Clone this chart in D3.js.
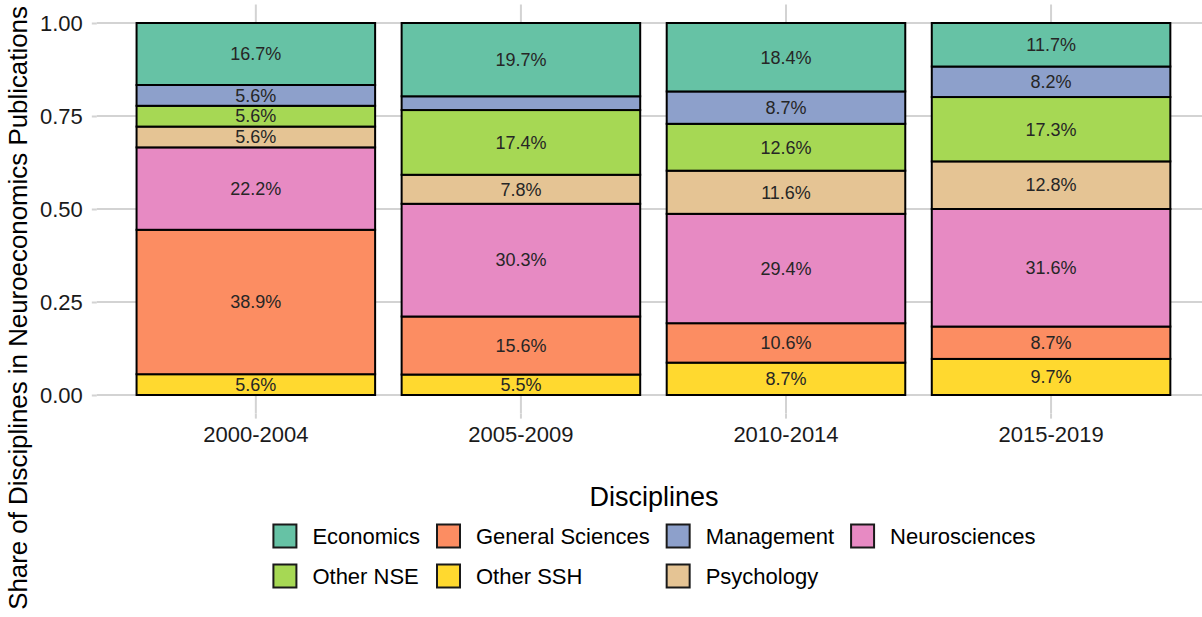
<!DOCTYPE html>
<html>
<head>
<meta charset="utf-8">
<script src="https://cdn.jsdelivr.net/npm/d3@7"></script>
<style>
  body { margin: 0; background: #fff; }
  svg { display: block; font-family: "Liberation Sans", Arial, sans-serif; }
</style>
</head>
<body>
<div id="chart"></div>
<script>
const periods = ["2000-2004", "2005-2009", "2010-2014", "2015-2019"];
const disciplines = ["Economics", "General Sciences", "Management", "Neurosciences", "Other NSE", "Other SSH", "Psychology"];
// bottom to top
const stackOrder = ["Other SSH", "General Sciences", "Neurosciences", "Psychology", "Other NSE", "Management", "Economics"];
const colors = ["#66C2A5", "#FC8D62", "#8DA0CB", "#E78AC3", "#A6D854", "#FFD92F", "#E5C494"];

// shares in percent, one value per period
const economics = [16.7, 19.7, 18.4, 11.7];
const generalSciences = [38.9, 15.6, 10.6, 8.7];
const management = [5.6, 3.7, 8.7, 8.2];
const neurosciences = [22.2, 30.3, 29.4, 31.6];
const otherNSE = [5.6, 17.4, 12.6, 17.3];
const otherSSH = [5.6, 5.5, 8.7, 9.7];
const psychology = [5.6, 7.8, 11.6, 12.8];

const yTicks = [0, 0.25, 0.5, 0.75, 1];

const seriesValues = {
  "Economics": economics,
  "General Sciences": generalSciences,
  "Management": management,
  "Neurosciences": neurosciences,
  "Other NSE": otherNSE,
  "Other SSH": otherSSH,
  "Psychology": psychology
};

const rows = periods.map((p, i) => {
  const r = { period: p };
  disciplines.forEach((d) => { r[d] = seriesValues[d][i]; });
  return r;
});

const width = 1202;
const height = 617;
const panel = { left: 96.8, right: 1210.1, top: 4.4, bottom: 413.6 };

const svg = d3.select("#chart").append("svg")
  .attr("width", width)
  .attr("height", height);

const color = d3.scaleOrdinal().domain(disciplines).range(colors);

const x = d3.scaleBand()
  .domain(periods)
  .range([panel.left, panel.right])
  .paddingInner(0.1)
  .paddingOuter(0.15);

const y = d3.scaleLinear()
  .domain([-0.05, 1.05])
  .range([panel.bottom, panel.top]);

const gridColor = "#d3d3d3";

// grid lines
svg.append("g")
  .selectAll("line")
  .data(yTicks)
  .enter()
  .append("line")
  .attr("x1", panel.left)
  .attr("x2", panel.right)
  .attr("y1", (d) => y(d))
  .attr("y2", (d) => y(d))
  .attr("stroke", gridColor)
  .attr("stroke-width", 2);

svg.append("g")
  .selectAll("line")
  .data(periods)
  .enter()
  .append("line")
  .attr("x1", (d) => x(d) + x.bandwidth() / 2)
  .attr("x2", (d) => x(d) + x.bandwidth() / 2)
  .attr("y1", panel.top)
  .attr("y2", panel.bottom)
  .attr("stroke", gridColor)
  .attr("stroke-width", 2);

// axes
const yAxis = svg.append("g")
  .attr("transform", `translate(${panel.left},0)`)
  .call(d3.axisLeft(y).tickValues(yTicks).tickFormat(d3.format(".2f")).tickSize(5).tickPadding(9));

const xAxis = svg.append("g")
  .attr("transform", `translate(0,${panel.bottom})`)
  .call(d3.axisBottom(x).tickSize(5).tickPadding(8));

[yAxis, xAxis].forEach((g) => {
  g.select(".domain").remove();
  g.selectAll(".tick line").attr("stroke", gridColor).attr("stroke-width", 2);
  g.selectAll("text")
    .attr("font-size", 22)
    .attr("fill", "#1a1a1a")
    .attr("font-family", "\"Liberation Sans\", Arial, sans-serif");
});

// stacked bars
const stacked = d3.stack()
  .keys(stackOrder)
  .offset(d3.stackOffsetExpand)(rows);

const layers = svg.append("g")
  .selectAll("g")
  .data(stacked)
  .enter()
  .append("g")
  .attr("fill", (d) => color(d.key));

layers.selectAll("rect")
  .data((d) => d)
  .enter()
  .append("rect")
  .attr("x", (d) => x(d.data.period))
  .attr("y", (d) => y(d[1]))
  .attr("width", x.bandwidth())
  .attr("height", (d) => y(d[0]) - y(d[1]))
  .attr("stroke", "#000")
  .attr("stroke-width", 2);

layers.selectAll("text")
  .data((d) => d.map((v) => ({ key: d.key, v })).filter((o) => o.v.data[o.key] >= 5))
  .enter()
  .append("text")
  .attr("x", (o) => x(o.v.data.period) + x.bandwidth() / 2)
  .attr("y", (o) => y((o.v[0] + o.v[1]) / 2))
  .attr("dy", "0.35em")
  .attr("text-anchor", "middle")
  .attr("font-size", 18)
  .attr("fill", "#262626")
  .text((o) => o.v.data[o.key].toFixed(1) + "%");

// y axis title, sized to span the same height as in the original
const yTitle = svg.append("text")
  .attr("transform", "translate(27,308) rotate(-90)")
  .attr("text-anchor", "middle")
  .attr("font-size", 27)
  .attr("fill", "#000")
  .text("Share of Disciplines in Neuroeconomics Publications");
const titleLen = yTitle.node().getComputedTextLength();
if (titleLen > 604) yTitle.attr("font-size", 27 * 604 / titleLen);

// legend
const legendCols = 4;
const keySize = 25;
const keyGap = 15;
const colGap = 16;
const legendCenter = 654;
const rowY = [536, 576];

const legend = svg.append("g");
legend.append("text")
  .attr("x", legendCenter)
  .attr("y", 506)
  .attr("text-anchor", "middle")
  .attr("font-size", 27)
  .attr("fill", "#000")
  .text("Disciplines");

const items = legend.selectAll("g.item")
  .data(disciplines)
  .enter()
  .append("g")
  .attr("class", "item");

const labels = items.append("text")
  .attr("font-size", 22)
  .attr("fill", "#000")
  .attr("dy", "0.35em")
  .text((d) => d);

const colWidths = d3.range(legendCols).map(() => 0);
labels.each(function (d, i) {
  const c = i % legendCols;
  colWidths[c] = Math.max(colWidths[c], this.getComputedTextLength());
});
const colStarts = [];
let acc = 0;
colWidths.forEach((w, c) => {
  colStarts.push(acc);
  acc += keySize + keyGap + w + (c < legendCols - 1 ? colGap : 0);
});
const legendLeft = legendCenter - acc / 2;

items.attr("transform", (d, i) =>
  `translate(${legendLeft + colStarts[i % legendCols]},${rowY[Math.floor(i / legendCols)]})`);

items.append("rect")
  .attr("x", 1)
  .attr("y", -keySize / 2 + 1)
  .attr("width", keySize - 2)
  .attr("height", keySize - 2)
  .attr("fill", (d) => color(d))
  .attr("stroke", "#1a1a1a")
  .attr("stroke-width", 2);

labels.attr("x", keySize + keyGap);
</script>
</body>
</html>
